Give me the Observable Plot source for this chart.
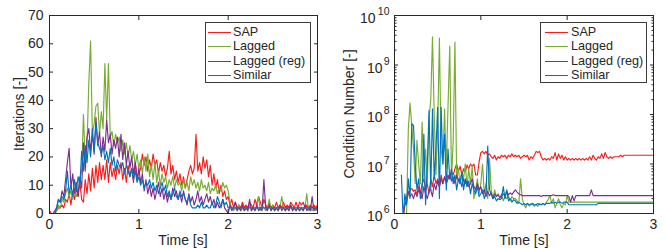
<!DOCTYPE html>
<html><head><meta charset="utf-8">
<script src="https://cdn.jsdelivr.net/npm/d3@7"></script>
<script src="https://cdn.jsdelivr.net/npm/@observablehq/plot@0.6"></script>
<style>
body{margin:0;background:#fff;}
#wrap{position:relative;width:665px;height:248px;font-family:"Liberation Sans",Arial,sans-serif;color:#262626;}
#wrap svg{position:absolute;top:0;}
.legend{position:absolute;background:#fff;border:1px solid #3a3a3a;box-sizing:border-box;}
.row{position:absolute;left:0;right:0;height:14px;line-height:14px;font-size:12.6px;white-space:nowrap;}
.swatch{position:absolute;height:0;top:7px;}
.lbl{position:absolute;top:0;}
.atitle{position:absolute;font-size:14px;white-space:nowrap;line-height:16px;}
</style></head>
<body><div id="wrap"></div>
<script>
const seriesNames = ["SAP", "Lagged", "Lagged (reg)", "Similar"];
const seriesColors = ["#ff1a1a", "#77ac30", "#7e2f8e", "#0072bd"];
const timeStep = 0.02;
const xTickValues = [0, 1, 2, 3];
const iterTickValues = [0, 10, 20, 30, 40, 50, 60, 70];
const condTickValues = [1e6, 1e7, 1e8, 1e9, 1e10];
const condTickExponents = ["6", "7", "8", "9", "10"];
const axisTitles = {iterY: "Iterations [-]", condY: "Condition Number [-]", x: "Time [s]"};

// Iterations [-]
const iterSAP = [
1,0,0,0,1,2,2,3,2,5, 4,7,3,8,5,9,6,11,5,4, 12,7,14,8,16,9,17,11,18,12, 17,12,19,11,18,13,16,12,17,14,
18,12,16,11,17,13,16,11,18,13, 14,16,21,17,20,15,19,16,21,17, 19,14,18,15,17,13,16,22,14,17, 12,15,11,14,10,13,9,12,15,17,
14,16,28,15,18,14,20,16,19,13, 17,10,14,9,12,7,10,6,8,5, 6,3,5,2,4,2,3,2,4,2, 3,2,4,3,2,5,3,6,4,2,
5,3,2,4,2,3,2,4,2,3, 2,4,2,3,2,4,3,2,4,2, 4,3,4,2,3,2,3,2,3,2, 3];
const iterLagged = [
0,0,0,0,1,3,2,5,4,7, 9,6,8,5,9,6,8,12,15,35, 18,24,46,61,28,32,38,39,28,36, 30,53,33,53,27,29,24,28,25,27,
22,26,21,25,20,24,19,22,17,21, 16,19,14,20,15,21,13,17,12,18, 11,15,10,14,11,13,9,12,10,13, 9,12,10,11,8,12,9,11,8,13,
10,12,9,11,8,12,9,10,8,11, 7,9,8,10,7,9,8,11,9,10, 8,4,2,1,2,1,3,1,2,1, 2,1,3,1,2,1,2,6,1,3,
2,1,2,5,1,3,1,2,1,2, 6,2,1,2,1,3,1,2,1,2, 1,2,1,2,7,1,2,1,2,1, 2];
const iterLaggedReg = [
0,0,0,1,2,5,4,8,6,12, 18,23,9,14,7,11,6,13,9,25, 15,27,30,22,28,21,34,24,29,20, 27,22,33,25,28,21,26,23,27,20,
28,19,25,17,22,16,20,14,18,12, 16,11,14,8,12,7,10,6,9,5, 8,11,6,9,5,8,4,7,5,9, 6,8,5,7,4,8,5,3,7,4,
6,3,5,8,4,6,3,5,7,4, 6,3,5,2,4,2,3,5,2,1, 0,3,1,2,4,1,2,1,3,1, 2,1,5,1,2,1,3,1,2,1,
12,2,1,3,1,2,1,2,1,3, 1,2,1,2,1,3,1,2,1,2, 1,2,1,3,1,2,1,6,1,2, 1];
const iterSimilar = [
0,0,0,0,2,5,4,6,5,8, 15,7,10,6,12,8,13,10,22,15, 24,18,26,20,30,22,32,25,23,21, 24,19,22,18,23,17,20,15,19,17,
16,18,14,17,15,13,16,12,15,11, 13,10,12,9,11,10,12,9,11,8, 10,7,9,11,8,10,6,8,5,7, 9,6,5,8,6,7,5,4,6,3,
2,2,2,3,2,4,2,2,3,2, 2,4,2,3,6,4,2,5,3,4, 2,2,2,2,2,2,2,2,2,2, 2,2,2,2,2,2,2,2,2,2,
2,2,2,2,2,2,2,2,2,2, 2,2,2,2,2,2,2,2,2,2, 2,2,2,2,2,2,2,2,2,2, 2];

// Condition Number [-]
const condSAP = [
null,null,null,null,null,8e5,1.5e6,1.7e6,2.5e6,3e6,
3.2e6,2.8e6,3e6,2.5e6,3.5e6,2.6e6,4e6,5e6,3e6,4e6,
2.5e6,5e6,3.5e6,6e6,4e6,5e6,3.5e6,6e6,4e6,5.5e6,
4.5e6,6e6,5e6,7e6,6e6,8e6,1e7,7e6,9e6,6e6,
8e6,7e6,9.5e6,8e6,1e7,9e6,1e7,6e6,6e6,1.1e7,
1.7e7,1.8e7,1.6e7,1.8e7,1.5e7,1.6e7,1.4e7,1.3e7,1.5e7,1.2e7,
1.4e7,1.3e7,1.5e7,1.4e7,1.5e7,1.3e7,1.5e7,1.4e7,1.6e7,1.4e7,
1.5e7,1.4e7,1.5e7,1.3e7,1.4e7,1.5e7,1.4e7,1.5e7,1.2e7,1.4e7,
1.3e7,1.5e7,1.8e7,1.7e7,1.8e7,1.4e7,1.2e7,1.3e7,1.2e7,1.3e7,
1.2e7,1.4e7,1.3e7,1.7e7,1.2e7,1.6e7,1.3e7,1.5e7,1.2e7,1.4e7,
1.2e7,1.3e7,1.2e7,1.3e7,1.2e7,1.3e7,1.2e7,1.3e7,1.2e7,1.3e7,
1.2e7,1.3e7,1.2e7,1.4e7,1.2e7,1.5e7,1.3e7,1.2e7,1.4e7,1.3e7,
1.6e7,1.3e7,1.7e7,1.4e7,1.3e7,1.4e7,1.3e7,1.4e7,1.4e7,1.4e7,
1.4e7,1.5e7,1.4e7,1.5e7,1.5e7,1.5e7,1.5e7,1.5e7,1.5e7,1.5e7,
1.5e7,1.5e7,1.5e7,1.5e7,1.5e7,1.5e7,1.5e7,1.5e7,1.5e7,1.5e7,
1.5e7];
const condLagged = [
null,null,null,null,null,null,null,1e6,5e7,1.7e8,
6e7,2e7,4e6,3e7,1e7,4e6,7e7,5e6,2e7,4e6,
8e7,2e8,3.7e9,1e8,6e6,5e7,3.5e9,2e7,1e7,1.3e8,
8e6,1.5e8,2.4e9,5e6,3e7,2.9e9,5e6,8e6,4e6,7e6,
5e6,1e7,3.5e6,8e6,4e6,9e6,2e6,3e6,5e6,2.5e6,
4e6,1e7,2.5e6,4e6,2e6,1.3e7,3e6,2e6,3e6,2.2e6,
2.5e6,2e6,2.5e6,1.8e6,2.2e6,2e6,2.3e6,1.8e6,2.2e6,2e6,
2e6,1.8e6,1.6e6,5e6,2e6,1.5e6,1.3e6,1.6e6,1.4e6,1.6e6,
1.5e6,1.4e6,1.5e6,1.4e6,1.6e6,1.5e6,1.6e6,1.5e6,1.7e6,1.9e6,
2.3e6,1.6e6,2e6,1.3e6,1.6e6,2e6,1.5e6,1.3e6,1.6e6,1.5e6,
2.3e6,1.7e6,1.7e6,1.7e6,1.7e6,1.7e6,1.7e6,1.7e6,1.7e6,1.7e6,
1.7e6,1.7e6,1.7e6,1.7e6,1.7e6,1.7e6,1.7e6,1.7e6,1.7e6,1.7e6,
1.7e6,1.7e6,1.7e6,1.7e6,1.7e6,1.7e6,1.7e6,1.7e6,1.7e6,1.7e6,
1.7e6,1.7e6,1.7e6,1.7e6,1.7e6,1.7e6,1.7e6,1.7e6,1.7e6,1.7e6,
1.7e6,1.7e6,1.7e6,1.7e6,1.7e6,1.7e6,1.7e6,1.7e6,1.7e6,1.7e6,
1.7e6];
const condLaggedReg = [
null,null,null,null,null,1e6,1.5e6,2e6,2.8e6,2.2e6,
2.5e6,2e6,2.7e6,2.2e6,3e6,2.5e6,2e6,3.5e6,2.5e6,2e6,
2.8e6,3e6,2.2e6,4e6,3e6,4.5e6,3.5e6,5e6,4e6,5.5e6,
4e6,5e6,6e6,4.5e6,5.5e6,4e6,6e6,4.5e6,5e6,3.5e6,
5e6,4e6,4.5e6,3.5e6,4e6,5e6,3.5e6,3e6,4e6,3e6,
3.5e6,2.5e6,3e6,2.2e6,2.8e6,2.3e6,2.6e6,2e6,2.5e6,2.2e6,
2.4e6,2.1e6,2.3e6,2.5e6,2.2e6,2.8e6,2.4e6,2.6e6,2.4e6,2.7e6,
3e6,2.7e6,2.5e6,2.4e6,2.3e6,2.3e6,2.3e6,2.3e6,2.3e6,2.3e6,
2.3e6,2.3e6,2.3e6,2.3e6,2.3e6,2.2e6,2.3e6,2.3e6,2.3e6,2.3e6,
2.3e6,2.3e6,2.4e6,2.3e6,2.3e6,2.3e6,2.3e6,2.3e6,2.3e6,2.3e6,
2.3e6,2.2e6,1.7e6,2.3e6,1.8e6,2.3e6,2.3e6,2.3e6,2.3e6,2.3e6,
2.3e6,2.3e6,2.3e6,2.3e6,3e6,2.3e6,2.3e6,2.3e6,2.3e6,2.3e6,
2.3e6,2.3e6,2.3e6,2.3e6,2.3e6,2.3e6,2.3e6,2.3e6,2.3e6,2.3e6,
2.3e6,2.3e6,2.3e6,2.3e6,2.3e6,2.3e6,2.3e6,2.3e6,2.3e6,2.3e6,
2.3e6,2.3e6,2.3e6,2.3e6,2.3e6,2.3e6,2.3e6,2.3e6,2.3e6,2.3e6,
2.3e6];
const condSimilar = [
null,null,null,null,6e6,8e5,2.5e6,1.5e6,5e6,2e6,
6.5e7,6e7,1e7,3e6,5e6,2e6,3e6,4e7,1.5e6,1e7,
1.2e8,3e6,1.3e8,5e6,2e7,1.4e8,2e6,1.4e8,1e7,4e7,
3e6,2e7,5e6,8e6,4e6,6e6,3e6,5e6,4e6,7e6,
3e6,5e6,3.5e6,4.5e6,2.5e6,4e6,3e6,2.5e6,3.5e6,2.2e6,
2.5e6,3e6,2e6,2.5e6,2.3e7,3e6,2.5e6,2e6,2.2e6,1.8e6,
2e6,1.9e6,2e6,3.5e6,2e6,3e6,1.8e6,2e6,1.7e6,1.9e6,
1.8e6,1.6e6,1.7e6,1.6e6,1.5e6,1.6e6,1.5e6,1.6e6,1.5e6,1.5e6,
1.6e6,1.5e6,1.5e6,1.6e6,1.5e6,1.5e6,1.6e6,1.5e6,1.6e6,1.6e6,
1.6e6,1.7e6,1.6e6,1.7e6,1.6e6,1.7e6,1.7e6,1.6e6,1.7e6,1.7e6,
1.7e6,1.5e6,1.5e6,1.5e6,1.5e6,1.5e6,1.5e6,1.5e6,1.5e6,1.5e6,
1.5e6,1.5e6,1.5e6,1.5e6,1.5e6,1.5e6,1.5e6,1.5e6,1.6e6,1.6e6,
1.6e6,1.6e6,1.6e6,1.6e6,1.6e6,1.6e6,1.6e6,1.6e6,1.6e6,1.6e6,
1.6e6,1.6e6,1.6e6,1.6e6,1.6e6,1.6e6,1.6e6,1.6e6,1.6e6,1.6e6,
1.6e6,1.6e6,1.6e6,1.6e6,1.6e6,1.6e6,1.6e6,1.6e6,1.6e6,1.6e6,
1.6e6];

const iterSeries = [iterSAP, iterLagged, iterLaggedReg, iterSimilar];
const condSeries = [condSAP, condLagged, condLaggedReg, condSimilar];

function toRows(seriesList) {
  return seriesList.flatMap((vals, k) => vals.map((v, i) => ({t: +(i * timeStep).toFixed(2), v, name: seriesNames[k]})));
}
const iterRows = toRows(iterSeries);
const condRows = toRows(condSeries);

const ink = "#262626";
const common = {
  height: 248, marginTop: 15, marginBottom: 35,
  style: {fontFamily: "'Liberation Sans', Arial, sans-serif", fontSize: "14px", color: ink, background: "transparent", overflow: "visible"},
  color: {domain: seriesNames, range: seriesColors}
};
const blank = () => "";
const plain = d => String(d);
const lw = 1.15;

const minorCond = condTickValues.slice(0, -1).flatMap(d => [2,3,4,5,6,7,8,9].map(m => d * m));

const left = Plot.plot({
  ...common, width: 332, marginLeft: 49, marginRight: 15,
  x: {domain: [0, 3]}, y: {domain: [0, 70]},
  marks: [
    Plot.line(iterRows, {x: "t", y: "v", z: "name", stroke: "name", strokeWidth: lw, clip: true}),
    Plot.frame({stroke: ink, strokeWidth: 1}),
    Plot.axisX({ticks: xTickValues, tickSize: 0, tickPadding: 6, tickFormat: plain, label: null}),
    Plot.axisX({ticks: xTickValues, tickSize: -4, tickFormat: blank, label: null}),
    Plot.axisX({anchor: "top", ticks: xTickValues, tickSize: -4, tickFormat: blank, label: null}),
    Plot.axisY({ticks: iterTickValues, tickSize: 0, tickPadding: 6, tickFormat: plain, label: null}),
    Plot.axisY({ticks: iterTickValues, tickSize: -4, tickFormat: blank, label: null}),
    Plot.axisY({anchor: "right", ticks: iterTickValues, tickSize: -4, tickFormat: blank, label: null})
  ]
});

const oneDigit = condTickValues.filter((d, i) => condTickExponents[i].length === 1);
const twoDigit = condTickValues.filter((d, i) => condTickExponents[i].length === 2);
const expOf = d => condTickExponents[condTickValues.indexOf(d)];

const right = Plot.plot({
  ...common, width: 330, marginLeft: 59, marginRight: 12,
  x: {domain: [0, 3]}, y: {type: "log", domain: [1e6, 1e10]},
  marks: [
    Plot.line(condRows, {x: "t", y: "v", z: "name", stroke: "name", strokeWidth: lw, clip: true}),
    Plot.frame({stroke: ink, strokeWidth: 1}),
    Plot.axisX({ticks: xTickValues, tickSize: 0, tickPadding: 6, tickFormat: plain, label: null}),
    Plot.axisX({ticks: xTickValues, tickSize: -4, tickFormat: blank, label: null}),
    Plot.axisX({anchor: "top", ticks: xTickValues, tickSize: -4, tickFormat: blank, label: null}),
    Plot.axisY({ticks: condTickValues, tickSize: -4, tickFormat: blank, label: null}),
    Plot.axisY({anchor: "right", ticks: condTickValues, tickSize: -4, tickFormat: blank, label: null}),
    Plot.axisY({ticks: minorCond, tickSize: -2.5, tickFormat: blank, label: null}),
    Plot.axisY({anchor: "right", ticks: minorCond, tickSize: -2.5, tickFormat: blank, label: null}),
    Plot.text(condTickValues, {y: d => d, frameAnchor: "left", text: expOf, textAnchor: "end", dx: -5, dy: -3.5, fontSize: 10.5, fill: ink}),
    Plot.text(oneDigit, {y: d => d, frameAnchor: "left", text: () => "10", textAnchor: "end", dx: -12, dy: 3.5, fill: ink}),
    Plot.text(twoDigit, {y: d => d, frameAnchor: "left", text: () => "10", textAnchor: "end", dx: -19, dy: 3.5, fill: ink})
  ]
});

const wrap = document.getElementById("wrap");
left.style.left = "0px";
right.style.left = "335px";
wrap.appendChild(left);
wrap.appendChild(right);

function title(text, cx, cy, rotate) {
  const d = document.createElement("div");
  d.className = "atitle";
  d.textContent = text;
  Object.assign(d.style, {left: cx + "px", top: cy + "px", transform: "translate(-50%,-50%)" + (rotate ? " rotate(-90deg)" : "")});
  wrap.appendChild(d);
}
title(axisTitles.iterY, 19, 114, true);
title(axisTitles.x, 183, 240, false);
title(axisTitles.condY, 349, 114, true);
title(axisTitles.x, 524, 240, false);

function legend(x, y, w, lineLeft, textLeft) {
  const box = document.createElement("div");
  box.className = "legend";
  Object.assign(box.style, {left: x + "px", top: y + "px", width: w + "px", height: "61px"});
  seriesNames.forEach((name, i) => {
    const row = document.createElement("div");
    row.className = "row";
    row.style.top = (1.5 + 14.5 * i) + "px";
    const sw = document.createElement("div");
    sw.className = "swatch";
    Object.assign(sw.style, {left: lineLeft + "px", width: "23px", borderTop: "1px solid " + seriesColors[i]});
    const lb = document.createElement("div");
    lb.className = "lbl";
    lb.style.left = textLeft + "px";
    lb.textContent = name;
    row.appendChild(sw); row.appendChild(lb);
    box.appendChild(row);
  });
  wrap.appendChild(box);
}
legend(205, 22, 106, 2, 27);
legend(540, 22, 107, 4, 30);
</script></body></html>
